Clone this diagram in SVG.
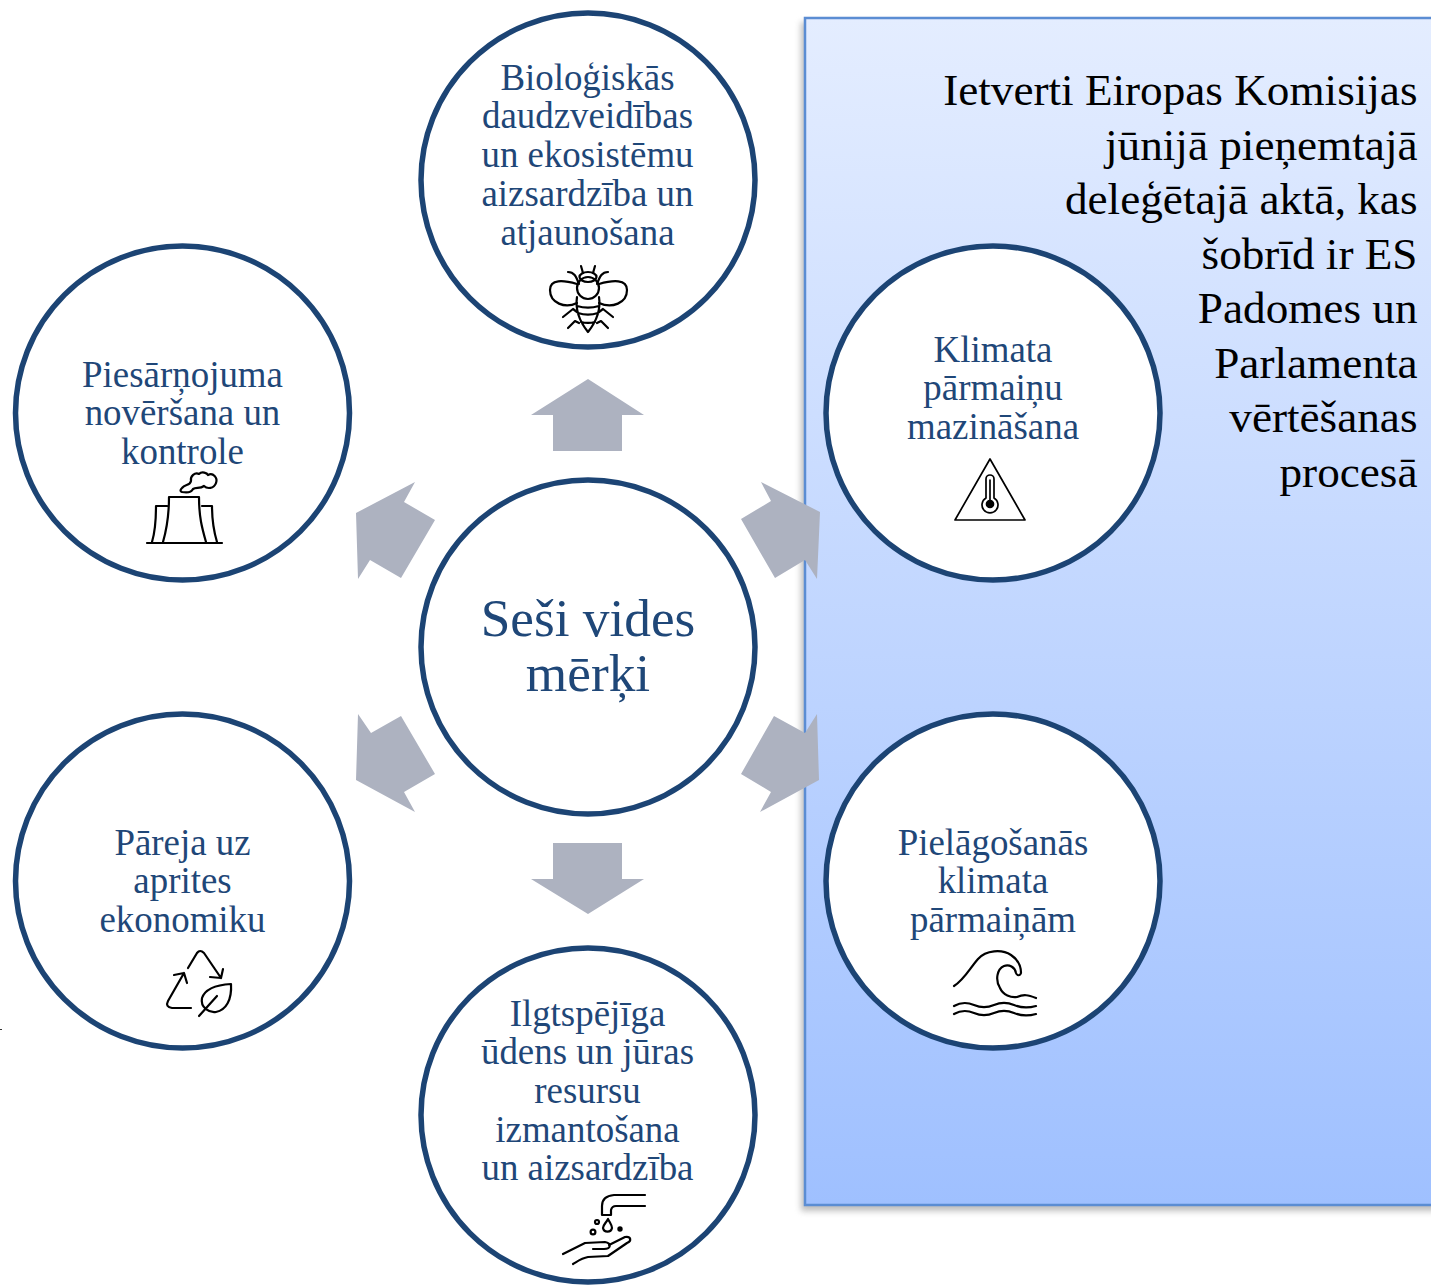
<svg xmlns="http://www.w3.org/2000/svg" width="1431" height="1285" viewBox="0 0 1431 1285">
<style>
.c{fill:#fff;stroke:#1c4474;stroke-width:5.5}
.t{font-family:"Liberation Serif","Times New Roman",serif;font-size:36.9px;fill:#1f4778;text-anchor:middle}
.b{font-family:"Liberation Serif","Times New Roman",serif;font-size:45.2px;fill:#000;text-anchor:end}
.i{fill:none;stroke:#000;stroke-width:2.2;stroke-linecap:round;stroke-linejoin:round}
.a{fill:#adb2c0}
</style>
<defs>
<linearGradient id="g" x1="0" y1="0" x2="0" y2="1"><stop offset="0" stop-color="#e4edff"/><stop offset="1" stop-color="#9fc0ff"/></linearGradient>
<filter id="s" x="-5%" y="-5%" width="110%" height="110%"><feGaussianBlur stdDeviation="3"/></filter>
</defs>
<rect width="1431" height="1285" fill="#fff"/>
<rect x="0" y="1029" width="2" height="1" fill="#333"/>
<g id="panel">
<rect x="801" y="22" width="640" height="1189" fill="#888" opacity=".55" filter="url(#s)"/>
<rect x="805" y="18" width="640" height="1187" fill="url(#g)" stroke="#5b8dd3" stroke-width="2.5"/>
<text class="b"><tspan x="1417.5" y="105">Ietverti Eiropas Komisijas</tspan><tspan x="1417.5" y="159.5">jūnijā pieņemtajā</tspan><tspan x="1417.5" y="214">deleģētajā aktā, kas</tspan><tspan x="1417.5" y="268.5">šobrīd ir ES</tspan><tspan x="1417.5" y="323">Padomes un</tspan><tspan x="1417.5" y="377.5">Parlamenta</tspan><tspan x="1417.5" y="432">vērtēšanas</tspan><tspan x="1417.5" y="486.5">procesā</tspan></text>
</g>
<g id="connectors">
<polygon class="a" points="588,379 644,415 622,415 622,451 553,451 553,415 531,415"/>
<polygon class="a" points="588,914 644,879 622,879 622,843 553,843 553,879 531,879"/>
<polygon class="a" points="415,482 404,502 435,520 401,578 370,560 358,579 356,513"/>
<polygon class="a" points="761,482 771,501 741,519 775,578 805,560 817,579 820,512"/>
<polygon class="a" points="774,716 805,733 817,714 819,780 760,812 771,792 741,774"/>
<polygon class="a" points="401,716 371,733 358,714 356,780 415,812 404,792 435,774"/>
</g>
<g id="node-center"><circle class="c" cx="588" cy="647" r="167"/>
<text class="t" style="font-size:53.3px"><tspan x="588" y="635.5">Seši vides</tspan><tspan x="588" y="690.5">mērķi</tspan></text></g>
<g id="node-bio"><circle class="c" cx="588" cy="180" r="167"/>
<text class="t"><tspan x="587.5" y="89.5">Bioloģiskās</tspan><tspan x="587.5" y="128">daudzveidības</tspan><tspan x="587.5" y="166.5">un ekosistēmu</tspan><tspan x="587.5" y="205.5">aizsardzība un</tspan><tspan x="587.5" y="244.5">atjaunošana</tspan></text>
<g class="i"><ellipse cx="588" cy="277" rx="8.5" ry="5"/><circle cx="588" cy="288" r="11"/>
<path d="M581,266 L583,273 M595,266 L593,273 M568,272 C574,272 576,276 579,284 M608,272 C602,272 600,276 597,284"/>
<path d="M577,284 C563,280 550,279 550,290 C550,303 565,309 577,303 M599,284 C613,280 627,279 627,290 C627,303 612,309 599,303"/>
<path d="M577,297 C575,310 580,322 588,332 C596,322 601,310 599,297 M577,306 C584,308 592,308 599,306 M578,313 C584,315 592,315 598,313 M581,322 C585,323 591,323 595,322"/>
<path d="M563,317 L573,309 L577,312 M613,317 L603,309 L599,312 M568,328 L575,321 L579,323 M608,328 L601,321 L597,323"/></g></g>
<g id="node-pollution"><circle class="c" cx="182.500" cy="413" r="167"/>
<text class="t"><tspan x="182.500" y="386.5">Piesārņojuma</tspan><tspan x="182.500" y="424.5">novēršana un</tspan><tspan x="182.500" y="463.500">kontrole</tspan></text>
<g class="i"><path d="M147,543 H222 M169,497 H199 M169,497 C169,517 167,528 163,542 M199,497 C199,517 202,528 206,542 M167,506 H156 C156,520 155,532 152,542 M202,506 H212 C212,520 214,532 217,542"/>
<path d="M182,488 C185,484 190,486 191,481 C190,476 195,472 199,474 C202,471 207,473 208,475 C213,472 218,478 216,483 C214,489 207,489 204,486 C200,489 196,487 193,489 C191,493 187,493 182,492 C180,491 180,490 182,488Z"/></g></g>
<g id="node-mitigation"><circle class="c" cx="993" cy="413" r="167"/>
<text class="t"><tspan x="993" y="361.5">Klimata</tspan><tspan x="993" y="399.5">pārmaiņu</tspan><tspan x="993" y="438.5">mazināšana</tspan></text>
<g class="i" style="stroke-width:1.7"><path d="M990,459 L1025,520 H955 Z"/><path d="M986,498 V479 A4,4 0 0 1 994,479 V498 A8,8 0 1 1 986,498Z"/><path d="M990,480 V500"/><circle cx="990" cy="504" r="3.5" fill="#000"/></g></g>
<g id="node-circular"><circle class="c" cx="182.500" cy="881" r="167"/>
<text class="t"><tspan x="182.500" y="854.5">Pāreja uz</tspan><tspan x="182.500" y="892.5">aprites</tspan><tspan x="182.500" y="931.5">ekonomiku</tspan></text>
<g class="i"><path d="M188,968 L197,953 Q200,949 204,953 L221,978 M210,977 L221,978 L223,969"/>
<path d="M191,1008 H172 Q165,1007 168,1001 L184,973 M174,975 L184,973 L187,983"/>
<path d="M231,984 C215,985 205,989 202,998 C200,1008 210,1013 216,1012 C226,1010 232,1000 231,984Z M199,1016 L217,996"/></g></g>
<g id="node-adaptation"><circle class="c" cx="993" cy="881" r="167"/>
<text class="t"><tspan x="993" y="854.5">Pielāgošanās</tspan><tspan x="993" y="892.5">klimata</tspan><tspan x="993" y="931.5">pārmaiņām</tspan></text>
<g class="i"><path d="M954,986 C964,980 970,968 978,959 C986,950 1002,949 1011,955 C1017,959 1021,966 1021,973 C1020,976 1017,976 1016,973 C1015,967 1009,964 1004,966 C997,969 995,980 1000,988 C1003,995 1011,998 1017,997 C1024,994 1028,995 1036,998"/>
<path d="M954,1006 C961,1002 967,1002 974,1005 C981,1008 987,1008 994,1005 C1001,1002 1007,1002 1014,1005 C1021,1008 1029,1008 1036,1006 M954,1014 C961,1010 967,1010 974,1013 C981,1016 987,1016 994,1013 C1001,1010 1007,1010 1014,1013 C1021,1016 1029,1016 1036,1014"/></g></g>
<g id="node-water"><circle class="c" cx="588" cy="1115" r="167"/>
<text class="t"><tspan x="587.5" y="1025.5">Ilgtspējīga</tspan><tspan x="587.5" y="1063.5">ūdens un jūras</tspan><tspan x="587.5" y="1102.5">resursu</tspan><tspan x="587.5" y="1141.5">izmantošana</tspan><tspan x="587.5" y="1179.5">un aizsardzība</tspan></text>
<g class="i"><path d="M645,1195 H614 Q602,1196 602,1206 V1215 H611 V1210 Q612,1206 616,1206 H645"/>
<path d="M608,1219 C606,1223 603,1225 603,1228 A4.6,4.6 0 0 0 612,1228 C612,1225 610,1223 608,1219Z"/>
<circle cx="597" cy="1222" r="2"/><circle cx="593" cy="1232" r="2.4"/><circle cx="620" cy="1229" r="1.6" fill="#000"/>
<path d="M563,1254 L585,1243 L605,1242 C612,1243 611,1249 604,1249 H593 M609,1245 L625,1237 C631,1236 632,1241 627,1243 L608,1256 L588,1257 C582,1258 578,1261 573,1264"/></g></g>
</svg>
